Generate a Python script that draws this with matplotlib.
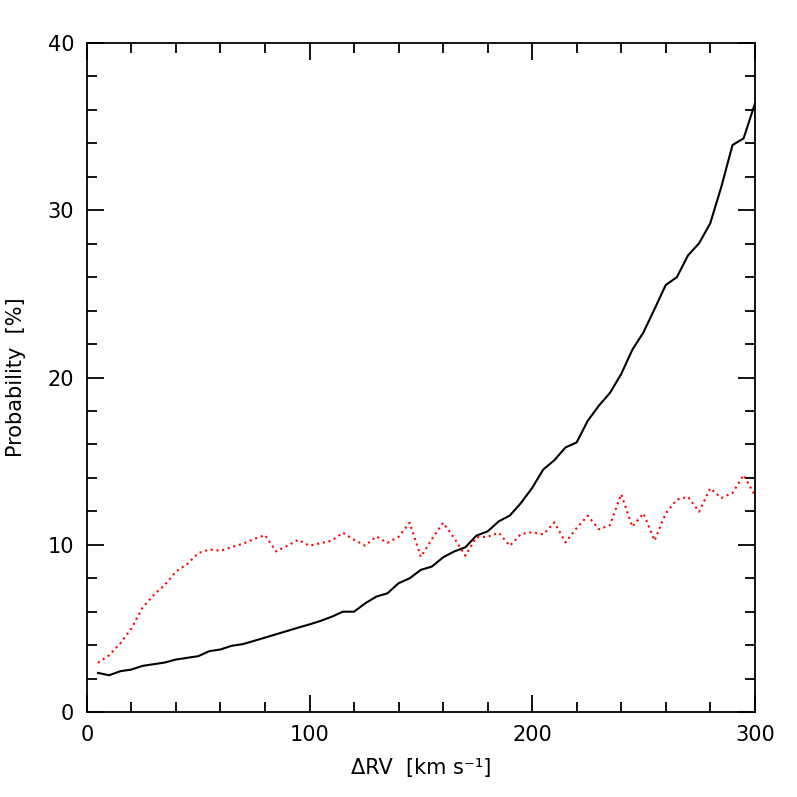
import numpy as np
import matplotlib
matplotlib.use("Agg")
import matplotlib.pyplot as plt
from matplotlib.ticker import MultipleLocator

# DATA
delta_rv = np.arange(5, 301, 5)

prob_black = [2.34, 2.2, 2.44, 2.54, 2.76, 2.86, 2.96, 3.14, 3.24, 3.34,
              3.64, 3.74, 3.96, 4.06, 4.25, 4.45, 4.65, 4.85, 5.05, 5.24,
              5.45, 5.7, 6.0, 6.0, 6.5, 6.9, 7.1, 7.7, 8.0, 8.5,
              8.7, 9.25, 9.6, 9.85, 10.55, 10.8, 11.4, 11.75, 12.5, 13.4,
              14.5, 15.06, 15.82, 16.12, 17.42, 18.32, 19.09, 20.21, 21.66, 22.7,
              24.1, 25.53, 26.0, 27.3, 28.03, 29.22, 31.41, 33.9, 34.3, 36.35]

prob_red = [2.94, 3.4, 4.1, 5.0, 6.24, 7.0, 7.6, 8.4, 8.84, 9.5,
            9.72, 9.64, 9.86, 10.06, 10.34, 10.58, 9.6, 9.94, 10.3, 9.94,
            10.1, 10.25, 10.72, 10.3, 9.95, 10.5, 10.12, 10.48, 11.32, 9.28,
            10.35, 11.32, 10.4, 9.35, 10.45, 10.48, 10.72, 9.94, 10.65, 10.75,
            10.62, 11.34, 10.14, 11.0, 11.74, 10.92, 11.18, 13.03, 11.08, 11.88,
            10.25, 11.88, 12.7, 12.87, 11.98, 13.38, 12.8, 13.1, 14.17, 12.97]

fig = plt.figure(figsize=(7.97, 7.97), dpi=100)
ax = fig.add_axes([0.109, 0.1066, 0.838, 0.8394])

ax.plot(delta_rv, prob_black, c='black', lw=1.5)
ax.plot(delta_rv, prob_red, c='red', lw=1.5, linestyle=(0, (1, 1.8)))

ax.set_xlim(0, 300)
ax.set_ylim(0, 40)
ax.xaxis.set_major_locator(MultipleLocator(100))
ax.xaxis.set_minor_locator(MultipleLocator(20))
ax.yaxis.set_major_locator(MultipleLocator(10))
ax.yaxis.set_minor_locator(MultipleLocator(2))
ax.tick_params(which='both', direction='in', top=True, right=True,
               width=1.3, labelsize=15, pad=9)
ax.tick_params(which='major', length=12)
ax.tick_params(which='minor', length=7)
for s in ax.spines.values():
    s.set_linewidth(1.3)

ax.set_xlabel("ΔRV  [km s⁻¹]", fontsize=15, labelpad=10)
ax.set_ylabel("Probability  [%]", fontsize=15, labelpad=16)

fig.savefig("out.png", dpi=100)
